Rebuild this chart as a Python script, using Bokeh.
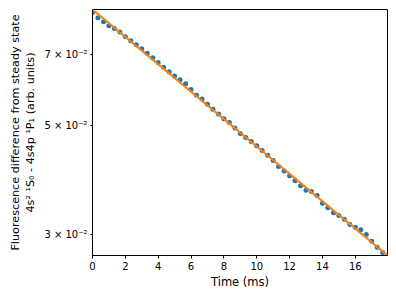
from bokeh.plotting import figure
from bokeh.models import Range1d, FixedTicker
from bokeh.embed import file_html
from bokeh.resources import INLINE

# --- data ---
time_ms = [0.00, 0.33, 0.67, 1.00, 1.33, 1.67, 2.00, 2.33, 2.67, 3.00,
           3.33, 3.67, 4.00, 4.33, 4.67, 5.00, 5.33, 5.67, 6.00, 6.33,
           6.67, 7.00, 7.33, 7.67, 8.00, 8.33, 8.67, 9.00, 9.33, 9.67,
           10.00, 10.33, 10.67, 11.00, 11.33, 11.67, 12.00, 12.33, 12.67, 13.00,
           13.33, 13.67, 14.00, 14.33, 14.67, 15.00, 15.33, 15.67, 16.00, 16.33,
           16.67, 17.00, 17.33, 17.67]
signal = [0.08534, 0.08328, 0.08166, 0.08022, 0.07915, 0.07783, 0.07617, 0.07469, 0.07330, 0.07191,
          0.07044, 0.06897, 0.06747, 0.06594, 0.06456, 0.06324, 0.06219, 0.06100, 0.05937, 0.05780,
          0.05676, 0.05537, 0.05411, 0.05291, 0.05175, 0.05082, 0.04950, 0.04824, 0.04735, 0.04645,
          0.04556, 0.04455, 0.04358, 0.04251, 0.04133, 0.04043, 0.03955, 0.03861, 0.03774, 0.03695,
          0.03673, 0.03602, 0.03475, 0.03400, 0.03324, 0.03279, 0.03222, 0.03144, 0.03102, 0.03068,
          0.03000, 0.02905, 0.02823, 0.02756]
fit_t = [0.0, 17.96]
fit_y = [0.08656, 0.02716]

y_ticks = [0.03, 0.05, 0.07]
y_tick_labels = ["3 × 10⁻²", "5 × 10⁻²", "7 × 10⁻²"]
x_ticks = [0, 2, 4, 6, 8, 10, 12, 14, 16]

FONT = "DejaVu Sans"

p = figure(output_backend="svg", toolbar_location=None,
           y_axis_type="log",
           frame_width=295, frame_height=246,
           min_border_left=92, min_border_top=9, min_border_right=1, min_border_bottom=34,
           x_range=Range1d(0, 17.96), y_range=Range1d(0.02716, 0.08656))

p.scatter(time_ms, signal, size=5, color="#1f77b4", line_color=None)
p.line(fit_t, fit_y, line_width=2, color="#ff7f0e")

p.grid.visible = False
p.outline_line_color = "black"
p.outline_line_width = 1
p.background_fill_color = "white"
p.border_fill_color = "white"

# x axis
xa = p.xaxis[0]
xa.ticker = FixedTicker(ticks=x_ticks)
xa.axis_label = "Time (ms)"
xa.axis_label_text_font = FONT
xa.axis_label_text_font_size = "11.5px"
xa.axis_label_text_font_style = "normal"
xa.axis_label_text_color = "black"
xa.axis_label_standoff = 2
xa.major_label_text_font = FONT
xa.major_label_text_font_size = "10px"
xa.major_label_text_color = "black"
xa.major_label_standoff = 3
xa.major_tick_out = 3
xa.major_tick_in = 0
xa.major_tick_line_color = "black"
xa.minor_tick_out = 0
xa.minor_tick_in = 0
xa.axis_line_color = "black"

# y axis
ya = p.yaxis[0]
ya.ticker = FixedTicker(ticks=y_ticks, minor_ticks=[])
ya.major_label_overrides = {t: s for t, s in zip(y_ticks, y_tick_labels)}
ya.axis_label = "Fluorescence difference from steady state\n4s² ¹S₀ - 4s4p ¹P₁ (arb. units)"
ya.axis_label_text_font = FONT
ya.axis_label_text_font_size = "11.2px"
ya.axis_label_text_font_style = "normal"
ya.axis_label_text_color = "black"
ya.axis_label_standoff = 4
ya.major_label_text_font = FONT
ya.major_label_text_font_size = "10px"
ya.major_label_text_color = "black"
ya.major_label_standoff = 3
ya.major_tick_out = 2
ya.major_tick_in = 0
ya.major_tick_line_color = "black"
ya.minor_tick_out = 0
ya.minor_tick_in = 0
ya.axis_line_color = "black"

open("out.html", "w").write(file_html(p, INLINE))
